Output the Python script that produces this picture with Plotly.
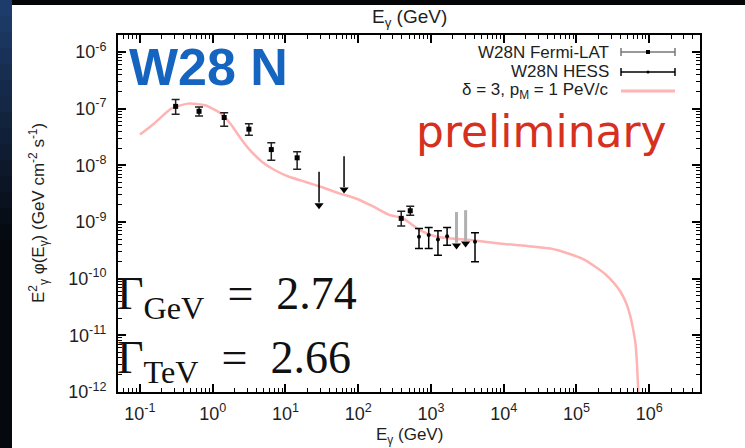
import plotly.graph_objects as go

# ---- model curve: delta = 3, p_M = 1 PeV/c ----
model_E = [0.1, 0.158, 0.27, 0.46, 0.79, 1.35, 1.82, 2.3, 3.1, 4.8, 7.2, 11.2, 19, 32, 55,
           93, 158, 270, 410, 700, 1200, 3500, 1.0e4, 2.0e4, 4.4e4, 8.3e4, 1.26e5, 1.78e5,
           2.5e5, 3.2e5, 4.0e5, 4.8e5, 5.5e5, 6.0e5, 6.5e5, 6.8e5, 7.1e5]
model_F = [3.5e-8, 5.5e-8, 1.0e-7, 1.23e-7, 1.15e-7, 7.9e-8, 5.1e-8, 3.3e-8, 2.0e-8, 1.15e-8,
           8.2e-9, 6.3e-9, 5.1e-9, 4.1e-9, 3.2e-9, 2.6e-9, 1.9e-9, 1.33e-9, 1.17e-9, 7.2e-10,
           5.5e-10, 4.8e-10, 4.1e-10, 3.8e-10, 3.4e-10, 2.7e-10, 2.2e-10, 1.66e-10, 1.2e-10,
           8.7e-11, 6.0e-11, 3.8e-11, 2.2e-11, 1.3e-11, 7e-12, 3.2e-12, 1.0e-12]

# ---- W28N Fermi-LAT ----
fermi_E = [0.31, 0.65, 1.44, 3.15, 6.4, 14.5, 391, 520]
fermi_F = [1.1e-7, 9.0e-8, 7.0e-8, 4.35e-8, 1.9e-8, 1.36e-8, 1.16e-9, 1.58e-9]
fermi_hi = [1.45e-7, 1.07e-7, 8.5e-8, 5.4e-8, 2.5e-8, 1.74e-8, 1.55e-9, 1.9e-9]
fermi_lo = [8.0e-8, 7.4e-8, 4.9e-8, 3.4e-8, 1.23e-8, 8.5e-9, 8.5e-10, 1.32e-9]
fermi_ul_E = [29, 64]
fermi_ul_F = [7.7e-9, 1.45e-8]

# ---- W28N HESS ----
hess_E = [686, 933, 1250, 1670, 4040]
hess_F = [5.5e-10, 5.9e-10, 4.9e-10, 5.6e-10, 4.5e-10]
hess_hi = [7.7e-10, 8.0e-10, 7.0e-10, 8.0e-10, 6.5e-10]
hess_lo = [3.4e-10, 3.4e-10, 2.6e-10, 3.9e-10, 2.0e-10]
hess_ul_E = [2250, 3000]
hess_ul_F = [1.5e-9, 1.62e-9]

x_ticks = [1e-1, 1e0, 1e1, 1e2, 1e3, 1e4, 1e5, 1e6]
x_ticktext = ["10<sup>-1</sup>", "10<sup>0</sup>", "10<sup>1</sup>", "10<sup>2</sup>",
              "10<sup>3</sup>", "10<sup>4</sup>", "10<sup>5</sup>", "10<sup>6</sup>"]
y_ticks = [1e-12, 1e-11, 1e-10, 1e-9, 1e-8, 1e-7, 1e-6]
y_ticktext = ["10<sup>-12</sup>", "10<sup>-11</sup>", "10<sup>-10</sup>", "10<sup>-9</sup>",
              "10<sup>-8</sup>", "10<sup>-7</sup>", "10<sup>-6</sup>"]

UL_RATIO = 0.23          # arrow length of the upper limits (fraction of the limit)
PINK = "rgb(255,180,180)"
FONT = "Liberation Sans"

fig = go.Figure()

# model curve
fig.add_trace(go.Scatter(x=model_E, y=model_F, mode="lines",
                         line=dict(color=PINK, width=2.5, shape="spline", smoothing=0.6),
                         hoverinfo="skip"))

# Fermi-LAT flux points
fig.add_trace(go.Scatter(
    x=fermi_E, y=fermi_F, mode="markers",
    marker=dict(symbol="square", size=5, color="black"),
    error_y=dict(type="data", symmetric=False,
                 array=[h - f for h, f in zip(fermi_hi, fermi_F)],
                 arrayminus=[f - l for f, l in zip(fermi_F, fermi_lo)],
                 color="#222", thickness=1.5, width=4)))

# HESS flux points
fig.add_trace(go.Scatter(
    x=hess_E, y=hess_F, mode="markers",
    marker=dict(symbol="circle", size=4, color="black"),
    error_y=dict(type="data", symmetric=False,
                 array=[h - f for h, f in zip(hess_hi, hess_F)],
                 arrayminus=[f - l for f, l in zip(hess_F, hess_lo)],
                 color="black", thickness=1.5, width=4)))


def ul_arrows(E, F, shaft_color, shaft_width):
    xs, ys = [], []
    for e, f in zip(E, F):
        xs += [e, e, None]
        ys += [f, f * UL_RATIO * 1.25, None]
    fig.add_trace(go.Scatter(x=xs, y=ys, mode="lines",
                             line=dict(color=shaft_color, width=shaft_width),
                             hoverinfo="skip"))
    fig.add_trace(go.Scatter(x=E, y=[f * UL_RATIO * 1.12 for f in F], mode="markers",
                             marker=dict(symbol="triangle-down", size=8, color="black"),
                             hoverinfo="skip"))


ul_arrows(fermi_ul_E, fermi_ul_F, "black", 1.5)
ul_arrows(hess_ul_E, hess_ul_F, "#b0b0b0", 3)

# ---- plot geometry (pixels) ----
L, R, T, B = 118, 700, 35, 392
W, H = 745, 448


def px(x):
    return (x - L) / (R - L)


def py(y):
    return (B - y) / (B - T)


shapes = []
# white panel over the dark slide background
shapes.append(dict(type="rect", xref="paper", yref="paper", x0=px(12), x1=px(W + 5),
                   y0=py(H + 5), y1=py(5), fillcolor="white", line=dict(width=0),
                   layer="below"))
# dark blue gradient strip on the left
n = 28
for i in range(n):
    t = i / (n - 1)
    k = max(0.0, 1 - t * 1.8)
    col = "rgb(%d,%d,%d)" % (int(5 + 25 * k), int(8 + 52 * k), int(12 + 95 * k))
    y0 = H * i / n
    y1 = H * (i + 1) / n
    shapes.append(dict(type="rect", xref="paper", yref="paper", x0=px(-2), x1=px(12),
                       y0=py(y1 + 0.5), y1=py(y0), fillcolor=col, line=dict(width=0),
                       layer="below"))

# legend samples
lx0, lx1 = px(621), px(675)
cap = 4 / (B - T)
for yy, col, w in [(52, "#777777", 1.5), (72, "black", 1.5)]:
    shapes.append(dict(type="line", xref="paper", yref="paper", x0=lx0, x1=lx1,
                       y0=py(yy), y1=py(yy), line=dict(color=col, width=w)))
    for xx in (lx0, lx1):
        shapes.append(dict(type="line", xref="paper", yref="paper", x0=xx, x1=xx,
                           y0=py(yy) - cap, y1=py(yy) + cap, line=dict(color=col, width=w)))
shapes.append(dict(type="rect", xref="paper", yref="paper", x0=px(646), x1=px(650),
                   y0=py(54), y1=py(50), fillcolor="black", line=dict(width=0)))
shapes.append(dict(type="circle", xref="paper", yref="paper", x0=px(646.5), x1=px(649.5),
                   y0=py(73.5), y1=py(70.5), fillcolor="black", line=dict(width=0)))
shapes.append(dict(type="line", xref="paper", yref="paper", x0=lx0, x1=lx1,
                   y0=py(91), y1=py(91), line=dict(color=PINK, width=3)))

text_col = "#1e1e1e"
annotations = [
    dict(text="W28N Fermi-LAT", x=px(611), y=py(52), xanchor="right", yanchor="middle"),
    dict(text="W28N HESS", x=px(611), y=py(72), xanchor="right", yanchor="middle"),
    dict(text="δ = 3, p<sub>M</sub> = 1 PeV/c", x=px(611), y=py(91), xanchor="right",
         yanchor="middle"),
]
for a in annotations:
    a.update(xref="paper", yref="paper", showarrow=False,
             font=dict(family=FONT, size=17, color=text_col))

gamma_eq = "&nbsp;&nbsp;=&nbsp;&nbsp;"
annotations += [
    dict(text="<b>W28 N</b>", x=px(127), y=py(67), xanchor="left", yanchor="middle",
         font=dict(family=FONT, size=52, color="#1565C0")),
    dict(text="preliminary", x=px(541), y=py(131), xanchor="center", yanchor="middle",
         font=dict(family="DejaVu Sans", size=44, color="#d6301f")),
    dict(text="Γ<sub>GeV</sub>" + gamma_eq + "2.74", x=px(115), y=py(297), xanchor="left",
         yanchor="middle", font=dict(family="Liberation Serif", size=46, color="#111")),
    dict(text="Γ<sub>TeV</sub>" + gamma_eq + "2.66", x=px(115), y=py(361), xanchor="left",
         yanchor="middle", font=dict(family="Liberation Serif", size=46, color="#111")),
    dict(text="E<sub>γ</sub> (GeV)", x=0.5, y=py(18), xanchor="center", yanchor="middle",
         font=dict(family=FONT, size=19, color=text_col)),
    dict(text="E<sub>γ</sub> (GeV)", x=0.5, y=py(436), xanchor="center", yanchor="middle",
         font=dict(family=FONT, size=17, color=text_col)),
    dict(text="E<sup>2</sup><sub>γ</sub> φ(E<sub>γ</sub>) (GeV cm<sup>-2</sup> s<sup>-1</sup>)",
         x=px(38), y=py(213), xanchor="center", yanchor="middle", textangle=-90,
         font=dict(family=FONT, size=17, color=text_col)),
]
for a in annotations:
    a.setdefault("xref", "paper")
    a.setdefault("yref", "paper")
    a.setdefault("showarrow", False)

axis_common = dict(
    type="log", showline=True, linecolor="black", linewidth=2, mirror="allticks",
    ticks="inside", ticklen=8, tickwidth=1.5, tickcolor="black", showgrid=False,
    zeroline=False,
    minor=dict(ticks="inside", ticklen=4, tickwidth=1, tickcolor="black", dtick="D1",
               showgrid=False),
    tickfont=dict(family=FONT, size=18, color=text_col),
)

fig.update_xaxes(range=[-1.301, 6.699], tickvals=x_ticks, ticktext=x_ticktext,
                 ticklabelstandoff=4, **axis_common)
fig.update_yaxes(range=[-12, -5.699], tickvals=y_ticks, ticktext=y_ticktext,
                 ticklabelstandoff=6, **axis_common)

fig.update_layout(
    width=W, height=H,
    margin=dict(l=L, r=W - R, t=T, b=H - B),
    paper_bgcolor="#030507", plot_bgcolor="white",
    showlegend=False,
    shapes=shapes, annotations=annotations,
)

fig.write_html("out.html")
